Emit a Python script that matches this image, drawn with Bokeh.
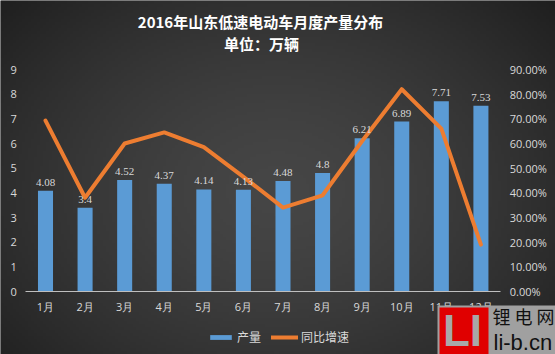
import numpy as np
from bokeh.plotting import figure
from bokeh.models import (Range1d, LinearAxis, NumeralTickFormatter, Legend, LegendItem,
                          LabelSet, ColumnDataSource, FixedTicker, Label, BoxAnnotation)
from bokeh.embed import file_html
from bokeh.resources import INLINE

months = ["1月", "2月", "3月", "4月", "5月", "6月", "7月", "8月", "9月", "10月", "11月", "12月"]
output = [4.08, 3.4, 4.52, 4.37, 4.14, 4.13, 4.48, 4.8, 6.21, 6.89, 7.71, 7.53]
output_labels = ["4.08", "3.4", "4.52", "4.37", "4.14", "4.13", "4.48", "4.8", "6.21", "6.89", "7.71", "7.53"]
growth = [0.693, 0.38, 0.60, 0.645, 0.585, 0.465, 0.34, 0.39, 0.61, 0.82, 0.66, 0.19]
left_ticks = [0, 1, 2, 3, 4, 5, 6, 7, 8, 9]
right_ticks = [0.0, 0.1, 0.2, 0.3, 0.4, 0.5, 0.6, 0.7, 0.8, 0.9]

title_text = "2016年山东低速电动车月度产量分布"
subtitle_text = "单位：万辆"
series_names = ["产量", "同比增速"]

W, H = 555, 354
TXT = "#d9d9d9"
FONT = "Open Sans"
CJK = "Noto Sans CJK SC"

# pixel <-> data helpers (frame covers the whole canvas)
SX = 39.583          # px per category
SY = 24.667          # px per unit on the left axis
X0 = 1 - 45 / SX     # data x at the left canvas edge
YTOP = 9 + 69 / SY   # data y at the top canvas edge
def xd(px): return X0 + px / SX
def yd(py): return YTOP - py / SY

pos = list(range(1, len(months) + 1))
src = ColumnDataSource(dict(x=pos, v=output, lbl=output_labels, g=growth))

p = figure(x_range=Range1d(xd(0), xd(W)), y_range=Range1d(yd(H), yd(0)), width=W, height=H,
           output_backend="svg", toolbar_location=None, title=None,
           min_border=0, min_border_left=0, min_border_right=0, min_border_top=0, min_border_bottom=0)
p.outline_line_color = None
p.background_fill_color = "#333333"
p.border_fill_color = "#333333"
p.extra_y_ranges = {"pct": Range1d(yd(H) / 10, yd(0) / 10)}

# radial background
gh, gw = H // 3, W // 3
yy, xx = np.mgrid[0:gh, 0:gw].astype(float)
py = (gh - 1 - yy) * 3 + 1.5
px = xx * 3 + 1.5
t = np.sqrt(((px - 277) / 330) ** 2 + ((py - 190) / 250) ** 2)
c = (70 - 40 * np.clip(t / 1.15, 0, 1) ** 1.5).astype(np.uint32)
img = (255 << 24) | (c << 16) | (c << 8) | c
p.image_rgba(image=[img.astype(np.uint32)], x=xd(0), y=yd(H), dw=W / SX, dh=H / SY)

# grid
p.xgrid.visible = False
g = p.ygrid[0]
g.ticker = FixedTicker(ticks=left_ticks)
g.grid_line_color = "#595959"
g.grid_line_width = 1
if "cross_bounds" in g.properties():
    g.cross_bounds = (0.5, len(months) + 0.5)
else:
    g.visible = False
    p.segment(x0=0.5, x1=len(months) + 0.5, y0=left_ticks, y1=left_ticks,
              line_color="#595959", line_width=1)

bars = p.vbar(x="x", top="v", width=0.38, source=src, fill_color="#5b9bd5", line_color=None)
line = p.line(x="x", y="g", source=src, y_range_name="pct", line_color="#ed7d31",
              line_width=4, line_join="round", line_cap="round")

p.add_layout(LabelSet(x="x", y="v", text="lbl", source=src, y_offset=5, text_align="center",
                      text_baseline="bottom", text_color=TXT, text_font_size="11px", text_font=FONT))

# axes at fixed locations inside the frame
xa = p.xaxis[0]
xa.fixed_location = 0
xa.bounds = (0.5, len(months) + 0.5)
xa.ticker = FixedTicker(ticks=pos)
xa.major_label_overrides = {i: m for i, m in zip(pos, months)}
xa.axis_line_color = "#bfbfbf"
xa.major_tick_line_color = None
xa.minor_tick_line_color = None
xa.major_tick_out = 0
xa.major_tick_in = 0
xa.major_label_standoff = 7
xa.major_label_text_color = TXT
xa.major_label_text_font_size = "11px"
xa.major_label_text_font = FONT

ya = p.yaxis[0]
ya.fixed_location = 0.5
ya.ticker = FixedTicker(ticks=left_ticks)
ya.axis_line_color = None
ya.major_tick_line_color = None
ya.minor_tick_line_color = None
ya.major_tick_out = 0
ya.major_tick_in = 0
ya.major_label_standoff = 9
ya.major_label_text_color = TXT
ya.major_label_text_font_size = "11px"
ya.major_label_text_font = FONT

ra = LinearAxis(y_range_name="pct", fixed_location=len(months) + 0.5,
                formatter=NumeralTickFormatter(format="0.00%"),
                ticker=FixedTicker(ticks=right_ticks))
ra.axis_line_color = None
ra.major_tick_line_color = None
ra.minor_tick_line_color = None
ra.major_tick_out = 0
ra.major_tick_in = 0
ra.major_label_standoff = 9
ra.major_label_text_color = TXT
ra.major_label_text_font_size = "11px"
ra.major_label_text_font = FONT
p.add_layout(ra, "right")

# titles
p.add_layout(Label(x=xd(260), y=yd(21), text=title_text, text_align="center", text_baseline="middle",
                   text_color="white", text_font_size="15px", text_font_style="bold", text_font=CJK))
p.add_layout(Label(x=xd(261), y=yd(43), text=subtitle_text, text_align="center", text_baseline="middle",
                   text_color="white", text_font_size="15px", text_font_style="bold", text_font=CJK))

# legend
legend = Legend(items=[LegendItem(label=series_names[0], renderers=[bars]),
                       LegendItem(label=series_names[1], renderers=[line])],
                orientation="horizontal", location=(207, 9),
                background_fill_alpha=0, border_line_alpha=0, padding=0, margin=0,
                glyph_width=27, glyph_height=6, label_standoff=3, spacing=10,
                label_text_color=TXT, label_text_font_size="12px", label_text_font=CJK)
p.add_layout(legend, "center")

# watermark
p.add_layout(BoxAnnotation(left=xd(437), right=xd(W + 2), top=yd(305), bottom=yd(H + 2),
                           fill_color="#a0a0a0", fill_alpha=1, line_color=None))
p.add_layout(BoxAnnotation(left=xd(439), right=xd(488), top=yd(307), bottom=yd(H + 2),
                           fill_color="#e00000", fill_alpha=1, line_color=None))
p.add_layout(Label(x=xd(462), y=yd(330), text="LI", text_align="center", text_baseline="middle",
                   text_color="#a8a8a8", text_font_size="44px", text_font_style="bold",
                   text_font="Liberation Sans"))
p.add_layout(Label(x=xd(492), y=yd(315), text="锂 电 网", text_align="left", text_baseline="middle",
                   text_color="#111111", text_font_size="18px", text_font=CJK))
p.add_layout(Label(x=xd(493), y=yd(342), text="li-b.cn", text_align="left", text_baseline="middle",
                   text_color="#111111", text_font_size="22px", text_font="Liberation Sans"))

open("out.html", "w").write(file_html(p, INLINE))
